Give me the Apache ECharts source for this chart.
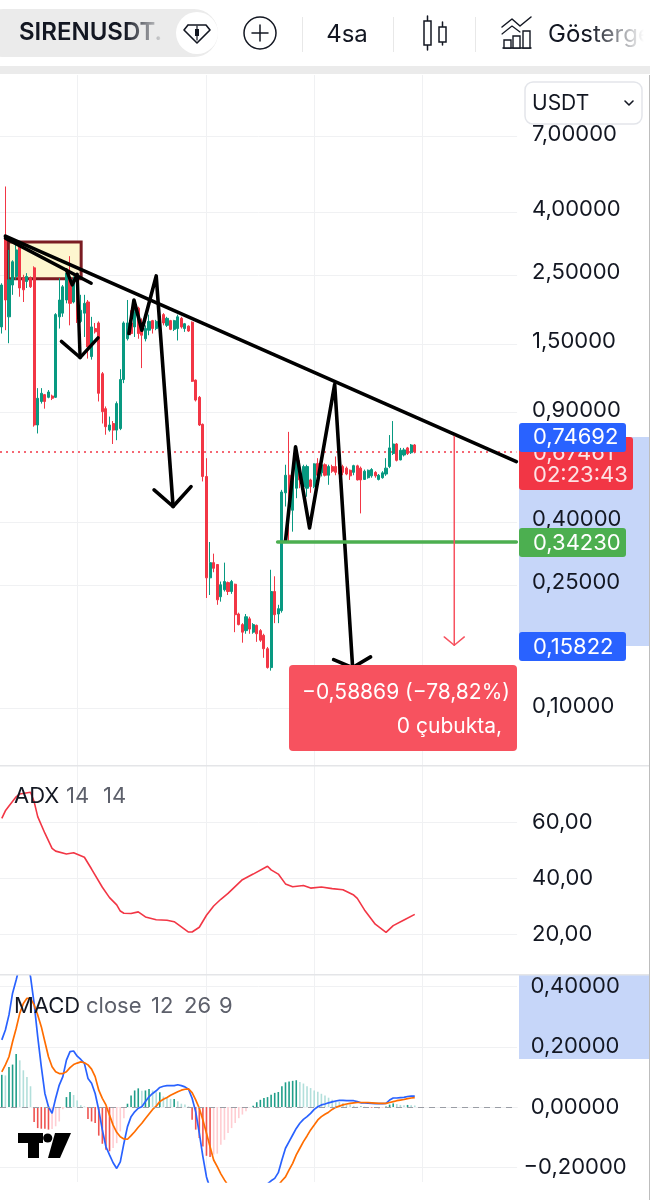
<!DOCTYPE html>
<html><head><meta charset="utf-8">
<style>html,body{margin:0;padding:0;background:#fff}#c{width:650px;height:1200px}</style>
<script src="https://cdn.jsdelivr.net/npm/echarts@6/dist/echarts.min.js"></script>
</head><body><div id="c"></div>
<script>
const SLOTS = 144;
const categories = Array.from({length: SLOTS}, (_, i) => String(i));
const opens = [1.67,3.30,1.80,2.28,2.43,3.03,2.40,2.34,2.40,2.59,.806,.96,1.01,.99,1.00,.99,1.80,1.85,2.04,2.40,2.01,2.34,1.74,1.85,2.01,1.34,1.65,1.72,1.18,.91,.776,.815,.776,.785,1.13,1.53,1.72,1.67,1.92,1.69,1.53,1.63,1.75,1.65,1.67,1.83,1.69,1.75,1.64,1.65,1.78,1.65,1.68,1.73,1.125,.99,.81,.55,.259,.29,.286,.225,.237,.25,.234,.247,.198,.183,.175,.191,.173,.182,.175,.169,.153,.133,.234,.198,.203,.487,.555,.428,.504,.585,.51,.504,.536,.51,.606,.565,.60,.555,.592,.592,.592,.592,.585,.576,.567,.595,.585,.538,.545,.5525,.567,.538,.545,.56,.592,.652,.70,.622,.645,.68,.656,.695];
const closes = [2.28,2.04,2.37,2.71,2.96,2.23,2.20,2.43,2.25,.806,.983,1.02,.96,1.03,.983,1.83,2.04,2.25,2.49,1.99,2.37,2.01,1.89,1.99,1.44,1.67,1.61,1.02,.89,.796,.806,.776,.945,1.13,1.72,1.72,1.59,1.87,1.59,1.57,1.65,1.74,1.65,1.74,1.80,1.72,1.78,1.64,1.75,1.80,1.67,1.71,1.62,1.115,.97,.806,.55,.259,.29,.278,.22,.246,.252,.234,.252,.197,.183,.173,.194,.177,.183,.171,.163,.153,.133,.234,.197,.206,.49,.555,.49,.55,.63,.536,.592,.592,.51,.604,.555,.60,.555,.592,.572,.567,.56,.567,.56,.5525,.596,.536,.536,.572,.576,.579,.5525,.555,.565,.585,.68,.70,.62,.668,.67,.652,.695,.66];
const lows = [1.59,1.63,1.48,2.12,2.37,2.09,2.01,2.23,2.23,.796,.757,.945,.91,.983,.97,.985,1.65,1.80,1.99,1.69,1.99,1.72,1.72,1.55,1.32,1.31,1.59,.96,.815,.75,.767,.70,.72,.776,1.10,1.51,1.57,1.55,1.53,1.23,1.50,1.57,1.59,1.63,1.65,1.69,1.67,1.63,1.62,1.51,1.65,1.61,1.61,1.11,.96,.80,.53,.223,.228,.27,.212,.217,.234,.228,.23,.173,.182,.16,.171,.171,.171,.161,.161,.143,.132,.13,.185,.185,.20,.44,.338,.365,.468,.504,.498,.473,.487,.504,.55,.55,.55,.517,.565,.555,.555,.555,.555,.536,.555,.534,.418,.536,.541,.545,.545,.534,.541,.5525,.585,.645,.615,.62,.638,.645,.65,.653];
const highs = [2.31,4.74,2.96,2.74,3.10,3.07,2.46,2.49,2.43,2.62,1.06,1.06,1.015,1.045,1.01,1.85,2.40,2.28,2.55,2.825,2.43,2.49,2.12,2.12,2.04,1.80,1.72,1.74,1.195,.925,.858,.83,.96,1.22,1.74,2.04,1.89,2.04,1.94,1.78,1.69,1.83,1.76,1.76,1.85,1.85,1.80,1.76,1.76,1.83,1.80,1.72,1.69,1.74,1.13,1.00,.815,.63,.338,.31,.287,.252,.29,.252,.255,.248,.20,.185,.198,.194,.185,.183,.177,.171,.155,.275,.262,.212,.498,.60,.766,.555,.645,.62,.60,.60,.541,.606,.63,.606,.606,.60,.60,.638,.60,.60,.592,.579,.60,.60,.592,.579,.579,.585,.572,.56,.572,.63,.748,.83,.705,.68,.68,.685,.70,.70];

const priceTicks = [7,4,2.5,1.5,.9,.4,.25,.1];
const adxTicks = [20,40,60];
const macdTicks = [-.2,0,.2,.4];
const gridSlots = [21,57,87,117];

const adxIdx = [0,1,2,4,5,8,9,10,12,14,15,18,20,23,25,28,30,32,33,34,36,38,40,43,46,48,52,53,55,57,59,61,63,67,70,74,75,77,79,81,84,86,89,92,95,98,99,101,104,107,109,112,115];
const adxVal = [61.3,64,65.7,69,70,70.6,67.3,61.9,56,50.6,49.6,48.6,49,47.4,43.2,36.7,33,30.4,28.2,27.4,27.3,27.9,26.1,25.1,24.9,24.4,20.7,20.7,22.4,26.7,30,32.4,34.5,39.4,41.4,44.2,42.9,41.4,37.9,36.9,37.3,36.4,36.8,36.2,35.8,33.9,32.7,28.6,23.5,20.6,23,25,27];

const macdLine = [.223,.256,.306,.378,.422,.47,.5,.48,.433,.344,.234,.134,.045,.001,-.021,.029,.073,.101,.156,.184,.186,.169,.158,.145,.095,.079,.045,-.01,-.076,-.132,-.159,-.185,-.204,-.182,-.121,-.065,-.032,-.016,-.004,.001,.018,.034,.045,.054,.065,.069,.071,.071,.071,.074,.071,.067,.059,.029,-.016,-.087,-.165,-.232,-.27,-.30,-.33,-.35,-.37,-.38,-.39,-.39,-.39,-.38,-.37,-.36,-.34,-.32,-.30,-.28,-.255,-.245,-.237,-.218,-.176,-.137,-.115,-.093,-.071,-.054,-.041,-.032,-.021,-.008,.001,.007,.01,.014,.017,.02,.022,.022,.021,.021,.021,.018,.014,.014,.013,.012,.011,.011,.011,.012,.023,.03,.03,.031,.032,.035,.036,.036];
const signalLine = [.117,.14,.167,.217,.261,.311,.344,.361,.361,.339,.306,.267,.217,.167,.134,.117,.111,.111,.117,.131,.141,.146,.15,.147,.14,.126,.101,.056,.029,.007,-.027,-.06,-.084,-.099,-.106,-.107,-.095,-.082,-.067,-.054,-.038,-.023,-.008,.003,.018,.026,.032,.039,.045,.051,.056,.059,.06,.048,.024,-.004,-.043,-.087,-.132,-.176,-.198,-.222,-.242,-.26,-.28,-.295,-.31,-.32,-.33,-.335,-.34,-.325,-.32,-.31,-.30,-.29,-.275,-.26,-.245,-.232,-.209,-.187,-.159,-.137,-.115,-.096,-.076,-.06,-.043,-.032,-.024,-.017,-.008,-.001,.003,.007,.01,.012,.014,.015,.015,.015,.015,.014,.013,.012,.012,.012,.015,.018,.021,.023,.025,.028,.03,.031];
const histogram = [.107,.105,.133,.141,.176,.155,.122,.1,.069,-.05,-.07,-.072,-.072,-.075,-.073,-.064,-.048,-.007,.033,.05,.04,.022,.006,.002,-.04,-.048,-.053,-.095,-.122,-.142,-.147,-.136,-.12,-.081,-.037,.011,.038,.055,.062,.054,.055,.06,.055,.049,.049,.035,.03,.027,.027,.019,.011,.008,.002,-.042,-.075,-.103,-.131,-.162,-.166,-.158,-.155,-.125,-.109,-.086,-.07,-.053,-.037,-.025,-.014,-.001,.004,.016,.024,.03,.033,.041,.047,.05,.069,.082,.085,.087,.089,.083,.078,.069,.063,.055,.051,.044,.038,.031,.024,.021,.017,.013,.01,.008,.004,.001,.002,.001,-.001,-.002,-.003,-.004,-.003,.002,.008,.012,.01,.007,.006,.007,.006,.005];

// chart drawings: [bar position, price]
const mainTrend = [[1,3.28],[143.3,.614]];
const shortTrend = [[1,3.23],[24.9,2.31]];
const arrowA = [[18,2.55],[19.6,2.28],[21,2.47],[21.8,1.33]];
const arrowAHead = [[16.6,1.50],[21.8,1.33],[26.8,1.54]];
const arrowB = [[35.4,1.59],[36.8,2.04],[39,1.63],[43,2.44],[47.7,.44]];
const arrowBHead = [[42.4,.498],[47.7,.44],[52.7,.51]];
const arrowC = [[79,.34],[81.8,.685],[85.7,.375],[92.7,1.09],[97.7,.133]];
const arrowCHead = [[92.4,.141],[97.7,.133],[102.7,.144]];
const supportLine = [[76.8,.338],[143.3,.338]];
const lastPriceLine = [[-.5,.66],[143.3,.66]];
const measureLine = [[126,.74],[126,.157]];
const measureHead = [[123.2,.167],[126,.157],[128.8,.167]];
const zoneBox = {from:[1.83,3.14], to:[22.1,2.39]};

const TEAL='#089981', RED='#F23645', GRID='#f0f1f3', TXT='#131722';
const UIFONT='Inter, "Noto Sans", sans-serif';
const bar = (a)=>a.map((v,i)=>[i,v]);
const fmt5 = v => (v<0?'\u2212':'')+Math.abs(v).toFixed(5).replace('.',',');
const fmt2 = v => v.toFixed(2).replace('.',',');

function drawing(data,color,width,extra){
  return Object.assign({type:'line',xAxisIndex:3,yAxisIndex:0,data,symbol:'none',silent:true,z:6,clip:true,
    lineStyle:{color,width,cap:'round',join:'round'}},extra||{});
}
const xCat = (g)=>({type:'category',gridIndex:g,data:categories,boundaryGap:true,
  axisLine:{show:false},axisTick:{show:false,alignWithLabel:true},axisLabel:{show:false},
  splitLine:{show:true,alignWithLabel:true,interval:(i)=>gridSlots.includes(i),lineStyle:{color:GRID,width:1}}});

const rect=(x,y,w,h,fill,r,stroke)=>({type:'rect',shape:{x,y,width:w,height:h,r:r||0},style:{fill,stroke:stroke||null,lineWidth:stroke?1.5:0},silent:true});
const text=(t,x,y,font,fill,align)=>({type:'text',style:{text:t,x,y,font,fill,align:align||'left',verticalAlign:'middle'},silent:true});
const ln=(pts,stroke,w)=>({type:'polyline',shape:{points:pts},style:{stroke,lineWidth:w,fill:null,lineCap:'round',lineJoin:'round'},silent:true});

const under=[
  rect(519,437,130,209,'#c6d6f9'),
  rect(519,975,130,84,'#c6d6f9')
].map(e=>Object.assign({z:-1},e));

const chrome=[
  rect(0,765,650,1.5,'#e4e5e8'),
  rect(0,974,650,1.5,'#e4e5e8'),
  rect(649,75,1,1125,'#bdbdbd'),
  rect(0,0,650,66,'#ffffff'),
  rect(0,66,650,8,'#ebebeb'),
  {type:'rect',shape:{x:-20,y:9,width:238,height:48,r:24},style:{fill:'#ebebeb'},silent:true},
  text('SIRENUSDT.',19,33,'600 24px '+UIFONT,'#131722'),
  {type:'rect',shape:{x:125,y:12,width:48,height:42},style:{fill:{type:'linear',x:0,y:0,x2:1,y2:0,colorStops:[{offset:0,color:'rgba(235,235,235,0)'},{offset:.85,color:'#ebebeb'},{offset:1,color:'#ebebeb'}]}},silent:true},
  {type:'circle',shape:{cx:197,cy:33,r:21},style:{fill:'#fff'},silent:true},
  ln([[188,25],[206,25],[210,30],[197,43],[184,30],[188,25]],'#131722',1.6),
  rect(195,29,4,7,'#131722'),
  ln([[197,26],[197,40]],'#131722',1.2),
  {type:'circle',shape:{cx:260,cy:33,r:16},style:{fill:'#fff',stroke:'#131722',lineWidth:1.5},silent:true},
  ln([[252,33],[268,33]],'#131722',1.5),ln([[260,25],[260,41]],'#131722',1.5),
  rect(302,17,1,35,'#e8e8e8'),rect(393,17,1,35,'#e8e8e8'),rect(475,17,1,35,'#e8e8e8'),
  text('4sa',347,35,'400 24px '+UIFONT,'#131722','center'),
  ln([[427.5,16],[427.5,21]],'#131722',1.5),ln([[427.5,45],[427.5,50]],'#131722',1.5),
  {type:'rect',shape:{x:424,y:21,width:7,height:24},style:{fill:'#fff',stroke:'#131722',lineWidth:1.5},silent:true},
  ln([[442.5,22],[442.5,27]],'#131722',1.5),ln([[442.5,42],[442.5,45]],'#131722',1.5),
  {type:'rect',shape:{x:439,y:27,width:7,height:15},style:{fill:'#fff',stroke:'#131722',lineWidth:1.5},silent:true},
  ln([[502,27],[512,19],[520,26],[531,17]],'#131722',1.5),
  ln([[502,34],[512,26],[520,32]],'#131722',1.2),
  ln([[503,48],[531,48]],'#131722',1.5),
  {type:'rect',shape:{x:504,y:40,width:7,height:8},style:{fill:'#fff',stroke:'#131722',lineWidth:1.4},silent:true},
  {type:'rect',shape:{x:513,y:36,width:7,height:12},style:{fill:'#fff',stroke:'#131722',lineWidth:1.4},silent:true},
  {type:'rect',shape:{x:523,y:31,width:7,height:17},style:{fill:'#fff',stroke:'#131722',lineWidth:1.4},silent:true},
  text('Gösterge',548,35,'400 24px '+UIFONT,'#131722'),
  {type:'rect',shape:{x:590,y:12,width:60,height:44},style:{fill:{type:'linear',x:0,y:0,x2:1,y2:0,colorStops:[{offset:0,color:'rgba(255,255,255,0)'},{offset:.9,color:'#fff'},{offset:1,color:'#fff'}]}},silent:true},
  rect(525,82,117,42,'#fff',8,'#e3e5ea'),
  text('USDT',532,104,'400 21px '+UIFONT,'#131722'),
  ln([[625,101],[629,105],[633,101]],'#131722',1.6),
  rect(519,437,114,53,'#F23645',3),
  text('0,67461',533,453,'400 22px '+UIFONT,'#fde3e5'),
  text('02:23:43',533,475,'400 22px '+UIFONT,'#fde3e5'),
  rect(519,423,107,29,'#2962FF',3),
  text('0,74692',533,437,'400 22px '+UIFONT,'#ffffff'),
  rect(519,528,107,29,'#4CAF50',3),
  text('0,34230',533,543,'400 22px '+UIFONT,'#ffffff'),
  rect(519,632,107,29,'#2962FF',3),
  text('0,15822',533,647,'400 22px '+UIFONT,'#ffffff'),
  rect(289,665,228,86,'#F7525F',4),
  text('\u22120,58869 (\u221278,82%)',302,693,'400 21px '+UIFONT,'#ffffff'),
  text('0 çubukta,',502,727,'400 21px '+UIFONT,'#ffffff','right'),
  text('ADX',14,796,'400 22px '+UIFONT,'#131722'),
  text('14',66,796,'400 22px '+UIFONT,'#5d606b'),
  text('14',103,796,'400 22px '+UIFONT,'#5d606b'),
  text('MACD',14,1006,'400 22px '+UIFONT,'#131722'),
  text('close',86,1006,'400 22px '+UIFONT,'#5d606b'),
  text('12',151,1006,'400 22px '+UIFONT,'#5d606b'),
  text('26',184,1006,'400 22px '+UIFONT,'#5d606b'),
  text('9',219,1006,'400 22px '+UIFONT,'#5d606b'),
  rect(18,1133,25,10,'#000'),rect(28,1133,11,25,'#000'),
  {type:'circle',shape:{cx:47.7,cy:1138,r:4.6},style:{fill:'#000'},silent:true},
  {type:'polygon',shape:{points:[[55,1133],[71,1133],[60,1158],[48,1158]]},style:{fill:'#000'},silent:true}
].map(e=>Object.assign({z:100},e));

const option={
  animation:false,backgroundColor:'#fff',
  grid:[
    {left:-1.9,top:75,width:519,height:690},
    {left:-1.9,top:766,width:519,height:210},
    {left:-1.9,top:975,width:519,height:207}
  ],
  xAxis:[xCat(0),xCat(1),xCat(2),
    {type:'value',gridIndex:0,min:-.5,max:143.5,show:false}],
  yAxis:[
    {type:'log',gridIndex:0,position:'right',min:.0645,max:10.85,logBase:10,
      axisLine:{show:false},axisTick:{show:false,customValues:priceTicks},splitLine:{show:false},
      axisLabel:{show:true,customValues:priceTicks,formatter:fmt5,color:TXT,fontSize:22,fontFamily:UIFONT,align:'left',margin:15,hideOverlap:false,padding:[4,0,0,0]}},
    {type:'log',gridIndex:0,position:'right',min:.0657,max:11.05,logBase:10,
      axisLine:{show:false},axisLabel:{show:false},axisTick:{show:false,customValues:priceTicks},
      splitLine:{show:true,lineStyle:{color:GRID,width:1}}},
    {type:'value',gridIndex:1,position:'right',min:5,max:80,
      axisLine:{show:false},axisTick:{show:false,customValues:adxTicks},
      splitLine:{show:true,lineStyle:{color:GRID,width:1}},
      axisLabel:{customValues:adxTicks,formatter:fmt2,color:TXT,fontSize:22,fontFamily:UIFONT,align:'left',margin:15,padding:[0,0,9,0]}},
    {type:'value',gridIndex:2,position:'right',min:-.249,max:.4385,
      axisLine:{show:false},axisTick:{show:false,customValues:macdTicks},
      splitLine:{show:true,lineStyle:{color:GRID,width:1}},
      axisLabel:{customValues:macdTicks,formatter:fmt5,color:TXT,fontSize:22,fontFamily:UIFONT,align:'center',margin:58,padding:[0,0,3,0]}}
  ],
  graphic:{elements:under.concat(chrome)},
  series:[
    {type:'line',name:'zone',xAxisIndex:3,yAxisIndex:0,data:[],symbol:'none',z:1,silent:true,
      markArea:{silent:true,itemStyle:{color:'#fdf6cf',borderColor:'#7a1c22',borderWidth:3},
        data:[[{coord:zoneBox.from},{coord:zoneBox.to}]]}},
    {type:'candlestick',xAxisIndex:0,yAxisIndex:0,z:3,barWidth:2.6,silent:true,
      data:opens.map((o,i)=>[o,closes[i],lows[i],highs[i]]),
      itemStyle:{color:TEAL,color0:RED,borderColor:TEAL,borderColor0:RED,borderWidth:1}},
    drawing(lastPriceLine,RED,1.5,{lineStyle:{color:RED,width:1.5,type:[2,4]},z:2}),
    drawing(mainTrend,'#000',3.6),
    drawing(shortTrend,'#000',3.4),
    drawing(arrowA,'#000',3.4),drawing(arrowAHead,'#000',3.4),
    drawing(arrowB,'#000',3.6),drawing(arrowBHead,'#000',3.6),
    drawing(arrowC,'#000',3.6),drawing(arrowCHead,'#000',3.6),
    drawing(supportLine,'#4CAF50',3.4),
    drawing(measureLine,'#F7525F',1.5),drawing(measureHead,'#F7525F',1.5),
    {type:'line',xAxisIndex:1,yAxisIndex:2,data:adxIdx.map((x,i)=>[x,adxVal[i]]),symbol:'none',silent:true,
      lineStyle:{color:RED,width:1.6}},
    {type:'bar',xAxisIndex:2,yAxisIndex:3,barWidth:1.6,silent:true,
      data:histogram.map((v,i)=>{
        const p=i?histogram[i-1]:0;
        const c=v>=0?(v>=p?'#1f9e89':'#b2dfdb'):(v<=p?'#ef5350':'#ffcdd2');
        return {value:v,itemStyle:{color:c}};
      }),
      markLine:{silent:true,symbol:'none',label:{show:false},lineStyle:{color:'#9a9da5',type:[6,5],width:1},data:[{yAxis:0}]}},
    {type:'line',xAxisIndex:2,yAxisIndex:3,data:bar(macdLine),symbol:'none',silent:true,lineStyle:{color:'#2962FF',width:1.7}},
    {type:'line',xAxisIndex:2,yAxisIndex:3,data:bar(signalLine),symbol:'none',silent:true,lineStyle:{color:'#FF6D00',width:1.7}}
  ]
};
const chart=echarts.init(document.getElementById('c'),null,{renderer:'canvas',width:650,height:1200});
chart.setOption(option);
</script></body></html>
